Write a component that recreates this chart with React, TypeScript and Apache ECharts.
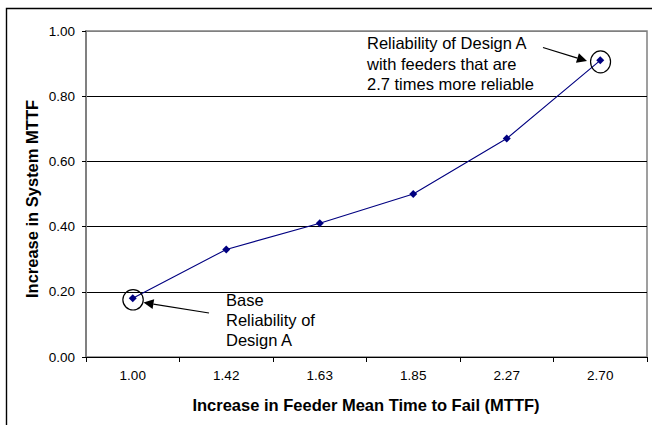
import React, { useEffect, useRef } from 'react';
import * as echarts from 'echarts';

// Feeder MTTF multipliers (category axis) and resulting system MTTF increase
const categories = ['1.00', '1.42', '1.63', '1.85', '2.27', '2.70'];
const systemMttfIncrease = [0.18, 0.33, 0.41, 0.5, 0.67, 0.91];

const yMin = 0;
const yMax = 1;
const yStep = 0.2;

const xTitle = 'Increase in Feeder Mean Time to Fail (MTTF)';
const yTitle = 'Increase in System MTTF';
const topNote = 'Reliability of Design A\nwith feeders that are\n2.7 times more reliable';
const baseNote = 'Base\nReliability of\nDesign A';

const FONT = '"Liberation Sans", Arial, Helvetica, sans-serif';

// Straight arrow with a filled triangular head pointing at (x2, y2)
function arrow(x1: number, y1: number, x2: number, y2: number, len = 10, half = 5) {
  const dx = x2 - x1;
  const dy = y2 - y1;
  const d = Math.hypot(dx, dy);
  const ux = dx / d;
  const uy = dy / d;
  const bx = x2 - ux * len;
  const by = y2 - uy * len;
  const px = -uy;
  const py = ux;
  return [
    {
      type: 'line',
      z: 10,
      silent: true,
      shape: { x1, y1, x2: bx, y2: by },
      style: { stroke: '#000', lineWidth: 1.2 },
    },
    {
      type: 'polygon',
      z: 10,
      silent: true,
      shape: {
        points: [
          [x2, y2],
          [bx + px * half, by + py * half],
          [bx - px * half, by - py * half],
        ],
      },
      style: { fill: '#000' },
    },
  ];
}

export default function App() {
  const ref = useRef<HTMLDivElement>(null);

  useEffect(() => {
    if (!ref.current) return;
    const chart = echarts.init(ref.current, undefined, { renderer: 'svg' });

    chart.setOption({
      animation: false,
      backgroundColor: '#fff',
      grid: {
        left: 86,
        top: 31,
        right: 5,
        bottom: 68,
        show: true,
        borderColor: '#808080',
        borderWidth: 1.5,
        backgroundColor: 'transparent',
      },
      xAxis: {
        type: 'category',
        data: categories,
        boundaryGap: true,
        axisLine: { lineStyle: { color: '#000', width: 1 } },
        axisTick: { show: true, length: 5, lineStyle: { color: '#000', width: 1 } },
        axisLabel: {
          interval: 0,
          color: '#000',
          fontFamily: FONT,
          fontSize: 13.5,
          margin: 11.5,
        },
        splitLine: { show: false },
      },
      yAxis: {
        type: 'value',
        min: yMin,
        max: yMax,
        interval: yStep,
        axisLine: { show: true, lineStyle: { color: '#808080', width: 2 } },
        axisTick: { show: true, length: 4, lineStyle: { color: '#000', width: 1 } },
        axisLabel: {
          color: '#000',
          fontFamily: FONT,
          fontSize: 13.5,
          margin: 11,
          formatter: (v: number) => v.toFixed(2),
        },
        splitLine: {
          show: true,
          lineStyle: {
            color: ['#000', '#000', '#000', '#000', '#000', '#808080'],
            width: 1,
          },
        },
      },
      series: [
        {
          type: 'line',
          data: systemMttfIncrease,
          symbol: 'diamond',
          symbolSize: 8,
          showSymbol: true,
          lineStyle: { color: '#000080', width: 1.1 },
          itemStyle: { color: '#000080' },
          z: 5,
        },
      ],
    });

    // Circle the first and last points, located through the axes
    const first = chart.convertToPixel({ seriesIndex: 0 }, [0, systemMttfIncrease[0]]) as number[];
    const lastIdx = systemMttfIncrease.length - 1;
    const last = chart.convertToPixel(
      { seriesIndex: 0 },
      [lastIdx, systemMttfIncrease[lastIdx]]
    ) as number[];

    const ring = (c: number[], rx: number, ry: number) => ({
      type: 'ellipse',
      z: 10,
      silent: true,
      shape: { cx: c[0] + 0.3, cy: c[1] + 1.5, rx, ry },
      style: { fill: 'none', stroke: '#000', lineWidth: 1.2 },
    });

    chart.setOption({
      graphic: [
        // chart frame
        {
          type: 'rect',
          z: 0,
          silent: true,
          shape: { x: 6.5, y: 8.5, width: 720, height: 520 },
          style: { fill: 'none', stroke: '#000', lineWidth: 1.4 },
        },
        ring(first, 10.2, 10.2),
        ring(last, 10, 11),
        ...arrow(209, 313, 143.5, 302.5, 10, 5),
        ...arrow(543, 47.5, 587, 61, 10, 5),
        {
          type: 'text',
          z: 10,
          silent: true,
          x: 367,
          y: 33,
          style: {
            text: topNote,
            fill: '#000',
            fontFamily: FONT,
            fontSize: 16.5,
            lineHeight: 20.5,
            align: 'left',
            verticalAlign: 'top',
          },
        },
        {
          type: 'text',
          z: 10,
          silent: true,
          x: 226,
          y: 290.3,
          style: {
            text: baseNote,
            fill: '#000',
            fontFamily: FONT,
            fontSize: 16.5,
            lineHeight: 20,
            align: 'left',
            verticalAlign: 'top',
          },
        },
        {
          type: 'text',
          z: 10,
          silent: true,
          x: 366,
          y: 405,
          style: {
            text: xTitle,
            fill: '#000',
            fontFamily: FONT,
            fontSize: 16.5,
            fontWeight: 'bold',
            align: 'center',
            verticalAlign: 'middle',
          },
        },
        {
          type: 'text',
          z: 10,
          silent: true,
          x: 32,
          y: 199,
          rotation: Math.PI / 2,
          style: {
            text: yTitle,
            fill: '#000',
            fontFamily: FONT,
            fontSize: 16.5,
            fontWeight: 'bold',
            align: 'center',
            verticalAlign: 'middle',
          },
        },
      ],
    });

    return () => chart.dispose();
  }, []);

  return (
    <div
      ref={ref}
      style={{ position: 'absolute', left: 0, top: 0, width: 652, height: 425, background: '#fff' }}
    />
  );
}
